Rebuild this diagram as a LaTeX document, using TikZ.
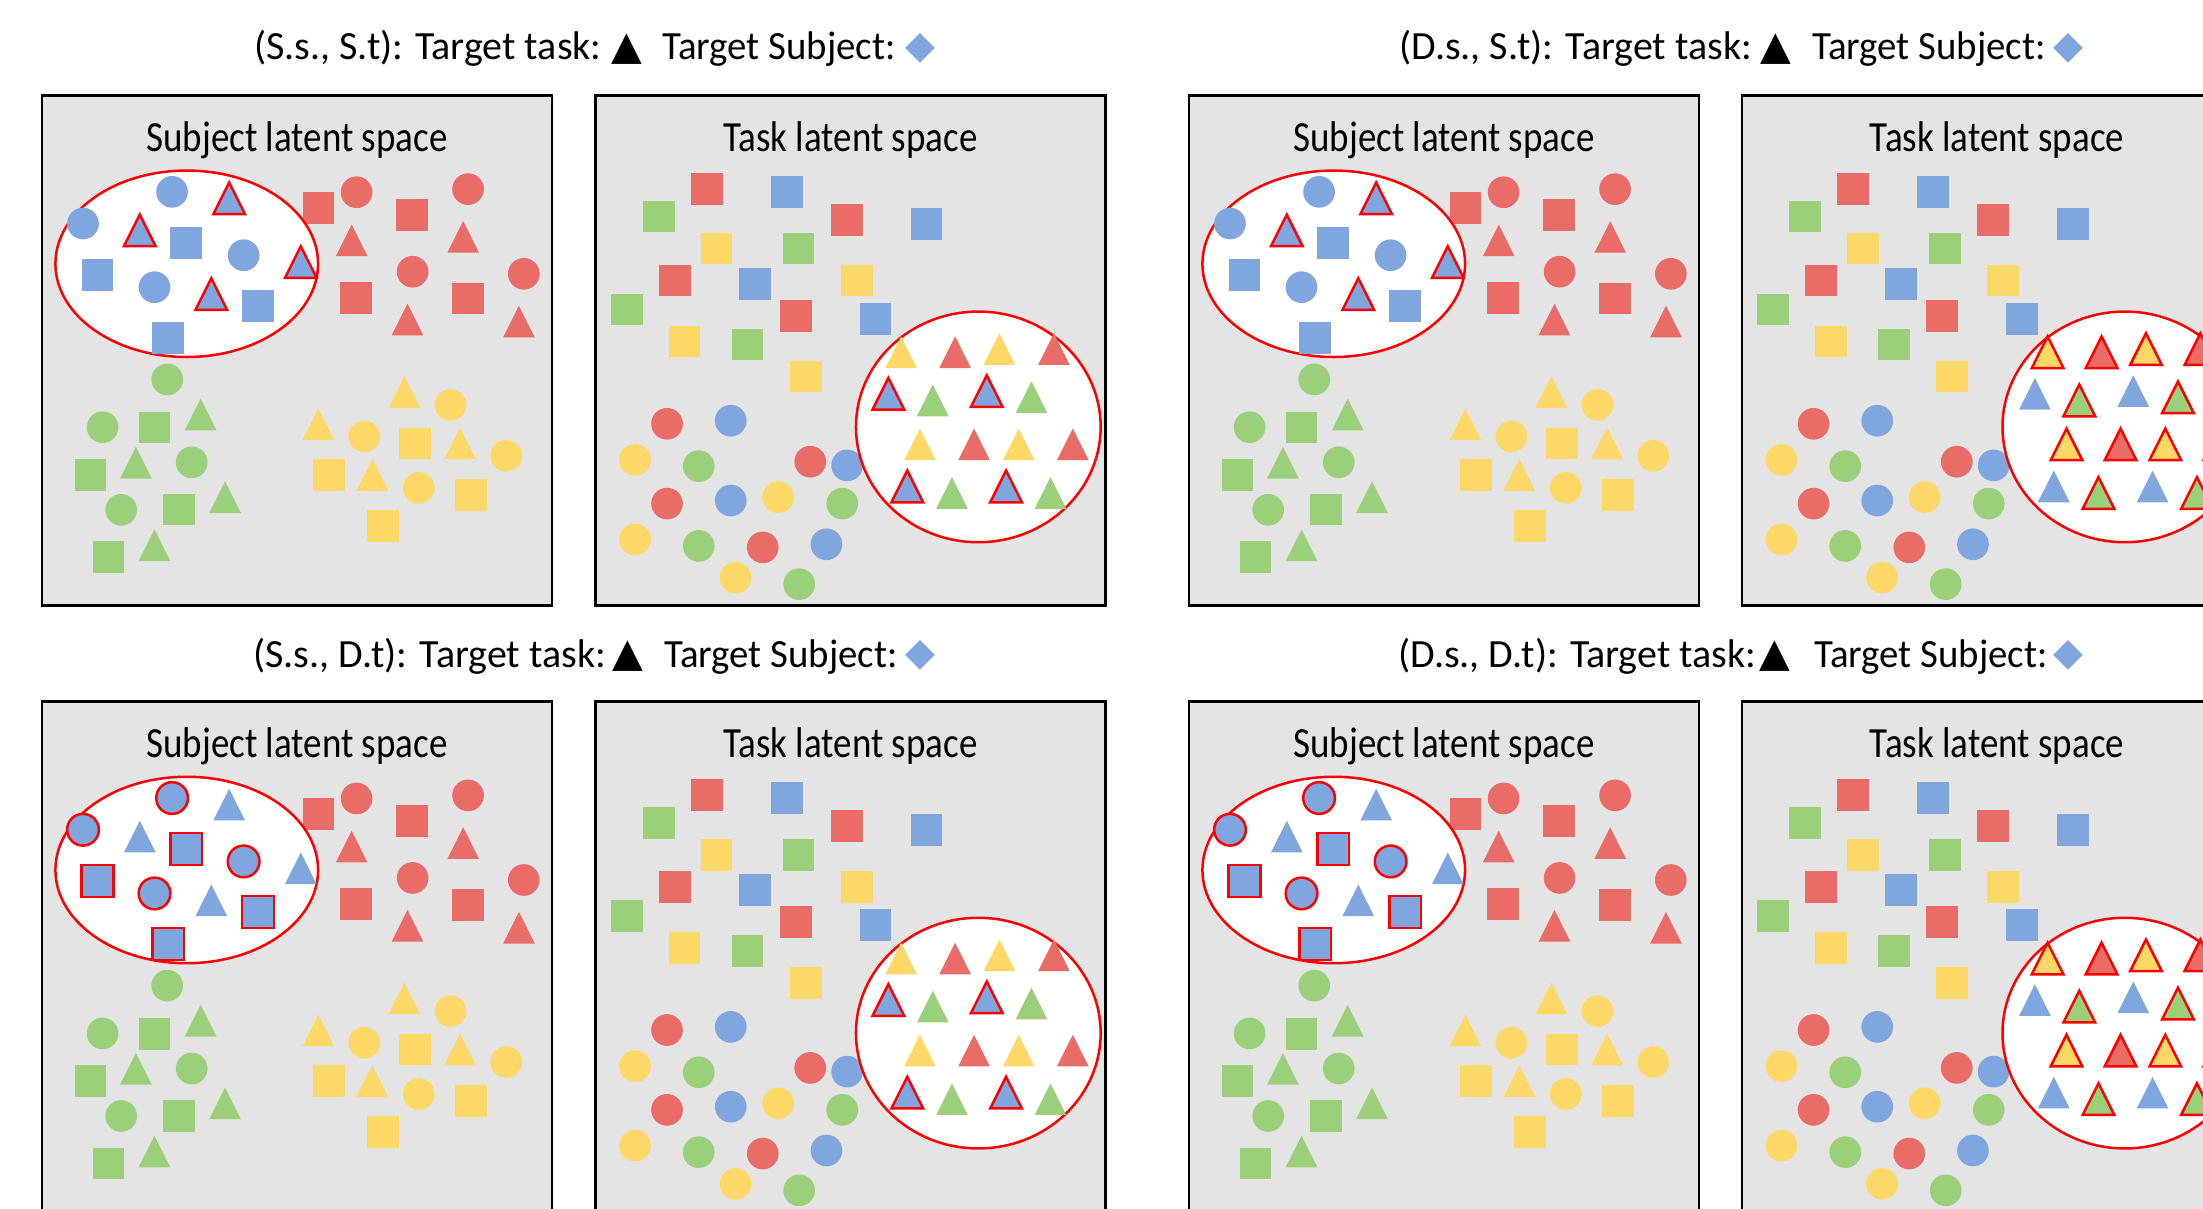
\documentclass[tikz,border=0pt]{standalone}
\usepackage{fontspec}
\setmainfont{Carlito}
\newfontfamily\ttlfont[FakeStretch=0.86]{Carlito}
\newfontfamily\hdrfont[FakeStretch=1.0]{Carlito}
\newfontfamily\hdrbfont[FakeStretch=0.97]{Carlito}
\newfontfamily\symfont{DejaVu Sans}
\definecolor{cb}{HTML}{7FA6DF}
\definecolor{cr}{HTML}{EA6C66}
\definecolor{cg}{HTML}{9BD07A}
\definecolor{cy}{HTML}{FED866}
\definecolor{pbg}{HTML}{E4E4E4}
\definecolor{ored}{HTML}{FF0000}
\tikzset{
  pbox/.style={draw=black, line width=2.5pt, fill=pbg},
  oval/.style={draw=ored, line width=2.5pt, fill=white},
  outl/.style={draw=ored, line width=2.5pt, line join=miter},
  ttl/.style={anchor=base, inner sep=0pt, font=\ttlfont\fontsize{43}{50}\selectfont},
  hdr/.style={anchor=base west, inner sep=0pt, font=\hdrfont\fontsize{40}{48}\selectfont},
  hdrb/.style={anchor=base west, inner sep=0pt, font=\hdrbfont\fontsize{40}{48}\selectfont},
  tri/.style={inner sep=0pt, font=\symfont\fontsize{40}{40}\selectfont},
  dia/.style={inner sep=0pt, text=cb, font=\symfont\fontsize{39}{39}\selectfont},
}
\newcommand\myS[4]{\path[fill=#1,#2] ({#3-15.35},{#4-15.35}) rectangle ({#3+15.35},{#4+15.35});}
\newcommand\myC[4]{\path[fill=#1,#2] (#3,#4) circle[radius=15.35];}
\newcommand\myT[4]{\path[fill=#1,#2] ({#3-15.35},#4) -- ({#3+15.35},#4) -- (#3,{#4-30.7}) -- cycle;}

% Subject latent space panel
\newcommand\subjpanel[4]{%
\begin{scope}[shift={(#2,#3)}, scale=1.0324, #4]
\path[pbox] (0,0) rectangle (494,494);
\node[ttl] (#1) at (247,53.8) {Subject latent space};
% red cluster
\myS{cr}{}{267.7}{108.7}
\myC{cr}{}{304.7}{93.7}
\myS{cr}{}{358.7}{115.5}
\myC{cr}{}{412.7}{90.7}
\myT{cr}{}{300}{155.7}
\myT{cr}{}{408}{152.3}
\myC{cr}{}{359}{170.7}
\myC{cr}{}{466.7}{172.7}
\myS{cr}{}{304.3}{196}
\myS{cr}{}{412.7}{196.7}
\myT{cr}{}{354}{232.3}
\myT{cr}{}{462}{234.3}
% green cluster
\myC{cg}{}{121.3}{275}
\myC{cg}{}{58.7}{321.3}
\myS{cg}{}{109}{321.7}
\myT{cg}{}{153.7}{324.3}
\myS{cg}{}{47}{367.3}
\myT{cg}{}{91}{371}
\myC{cg}{}{145}{355.3}
\myC{cg}{}{76.7}{401.3}
\myS{cg}{}{133}{401}
\myT{cg}{}{177.3}{404.3}
\myS{cg}{}{64.3}{447.3}
\myT{cg}{}{109}{451}
% yellow cluster
\myT{cy}{}{351}{302.7}
\myC{cy}{}{395.7}{299.7}
\myT{cy}{}{267.7}{333.7}
\myC{cy}{}{312.3}{330.3}
\myS{cy}{}{361.3}{337}
\myT{cy}{}{405}{352.3}
\myC{cy}{}{449.7}{349}
\myS{cy}{}{278.3}{367.3}
\myT{cy}{}{320}{383}
\myC{cy}{}{365}{380}
\myS{cy}{}{415.7}{386.7}
\myS{cy}{}{330.3}{416.7}
% target subject region
\path[oval] (140.2,163) ellipse[x radius=127.2, y radius=90.3];
\myC{cb}{bo}{39.7}{124}
\myC{cb}{bo}{126}{93.3}
\myC{cb}{bo}{195.3}{154.7}
\myC{cb}{bo}{109}{185.7}
\myS{cb}{bo}{139.7}{142.7}
\myS{cb}{bo}{53.7}{173.7}
\myS{cb}{bo}{209.3}{203.7}
\myS{cb}{bo}{122.3}{234.7}
\myT{cb}{bt}{181.3}{115}
\myT{cb}{bt}{94.7}{146}
\myT{cb}{bt}{250.7}{176.7}
\myT{cb}{bt}{164}{207.7}
\end{scope}}

% Task latent space panel
\newcommand\taskpanel[4]{%
\begin{scope}[shift={(#2,#3)}, scale=1.0324, #4]
\path[pbox] (0,0) rectangle (494,494);
\node[ttl] (#1) at (247,53.8) {Task latent space};
% squares
\myS{cr}{}{107.7}{90.3}
\myS{cb}{}{185.3}{93.3}
\myS{cg}{}{61.3}{117.3}
\myS{cr}{}{243.3}{120.3}
\myS{cb}{}{320.7}{124.3}
\myS{cy}{}{117.3}{148.3}
\myS{cg}{}{196.7}{148.3}
\myS{cr}{}{76.7}{179.3}
\myS{cb}{}{154.3}{182.3}
\myS{cy}{}{253}{179.3}
\myS{cg}{}{30.3}{207.3}
\myS{cr}{}{194}{213.3}
\myS{cb}{}{271.3}{216.3}
\myS{cy}{}{86.3}{238.3}
\myS{cg}{}{147.3}{241.3}
\myS{cy}{}{203.7}{272.3}
% circles
\myC{cr}{}{69.3}{318}
\myC{cb}{}{131}{315}
\myC{cy}{}{38.3}{353}
\myC{cg}{}{100}{359}
\myC{cr}{}{208}{354.7}
\myC{cb}{}{243.7}{358.3}
\myC{cr}{}{69.3}{395.3}
\myC{cb}{}{131}{392.3}
\myC{cy}{}{177}{389}
\myC{cg}{}{239}{395.3}
\myC{cy}{}{38.3}{430}
\myC{cg}{}{100}{436.3}
\myC{cr}{}{162}{437.7}
\myC{cb}{}{223.7}{434.7}
\myC{cy}{}{135.7}{467}
\myC{cg}{}{197.3}{473.3}
% target task region
\path[oval] (370.8,321) ellipse[x radius=118.5, y radius=111.7];
\myT{cy}{tn}{296}{264}
\myT{cr}{tn}{348.3}{264}
\myT{cy}{tn}{391.3}{261}
\myT{cr}{tn}{444}{261}
\myT{cb}{tb}{283.7}{304.3}
\myT{cg}{tn}{326.7}{310.7}
\myT{cb}{tb}{379}{301.7}
\myT{cg}{tn}{422.3}{307.7}
\myT{cy}{tn}{314.3}{353.3}
\myT{cr}{tn}{366.7}{353.3}
\myT{cy}{tn}{410}{353.3}
\myT{cr}{tn}{462.3}{353.3}
\myT{cb}{tb}{302}{394}
\myT{cg}{tn}{345.3}{400.3}
\myT{cb}{tb}{397.7}{394}
\myT{cg}{tn}{440.7}{400.3}
\end{scope}}

\begin{document}
\begin{tikzpicture}[x=1pt, y=-1pt]
\useasboundingbox (0,0) rectangle (2203,1209);
\fill[white] (0,0) rectangle (2203,1209);
\clip (0,0) rectangle (2203,1209);

% headers
\node[hdr] (h1) at (254,60) {(S.s., S.t): Target task:};
\node[tri] (h1t) at (627,49) {▲};
\node[hdrb] (h1s) at (662,60) {Target Subject:};
\node[dia] (h1d) at (920,48) {◆};

\node[hdr] (h2) at (1399,60) {(D.s., S.t): Target task:};
\node[tri] (h2t) at (1776,49) {▲};
\node[hdrb] (h2s) at (1812,60) {Target Subject:};
\node[dia] (h2d) at (2068,48) {◆};

\node[hdr] (h3) at (253,667) {(S.s., D.t): Target task:};
\node[tri] (h3t) at (628,656) {▲};
\node[hdrb] (h3s) at (664,667) {Target Subject:};
\node[dia] (h3d) at (920,655) {◆};

\node[hdr] (h4) at (1398,667) {(D.s., D.t): Target task:};
\node[tri] (h4t) at (1775,656) {▲};
\node[hdrb] (h4s) at (1814,667) {Target Subject:};
\node[dia] (h4d) at (2068,655) {◆};

% panels
\subjpanel{s1}{42}{95.5}{bt/.style={outl}, bo/.style={}}
\taskpanel{t1}{595.5}{95.5}{tb/.style={outl}, tn/.style={}}
\subjpanel{s2}{1189}{95.5}{bt/.style={outl}, bo/.style={}}
\taskpanel{t2}{1742}{95.5}{tb/.style={}, tn/.style={outl}}
\subjpanel{s3}{42}{701.7}{bt/.style={}, bo/.style={outl}}
\taskpanel{t3}{595.5}{701.7}{tb/.style={outl}, tn/.style={}}
\subjpanel{s4}{1189}{701.7}{bt/.style={}, bo/.style={outl}}
\taskpanel{t4}{1742}{701.7}{tb/.style={}, tn/.style={outl}}
\end{tikzpicture}
\end{document}
